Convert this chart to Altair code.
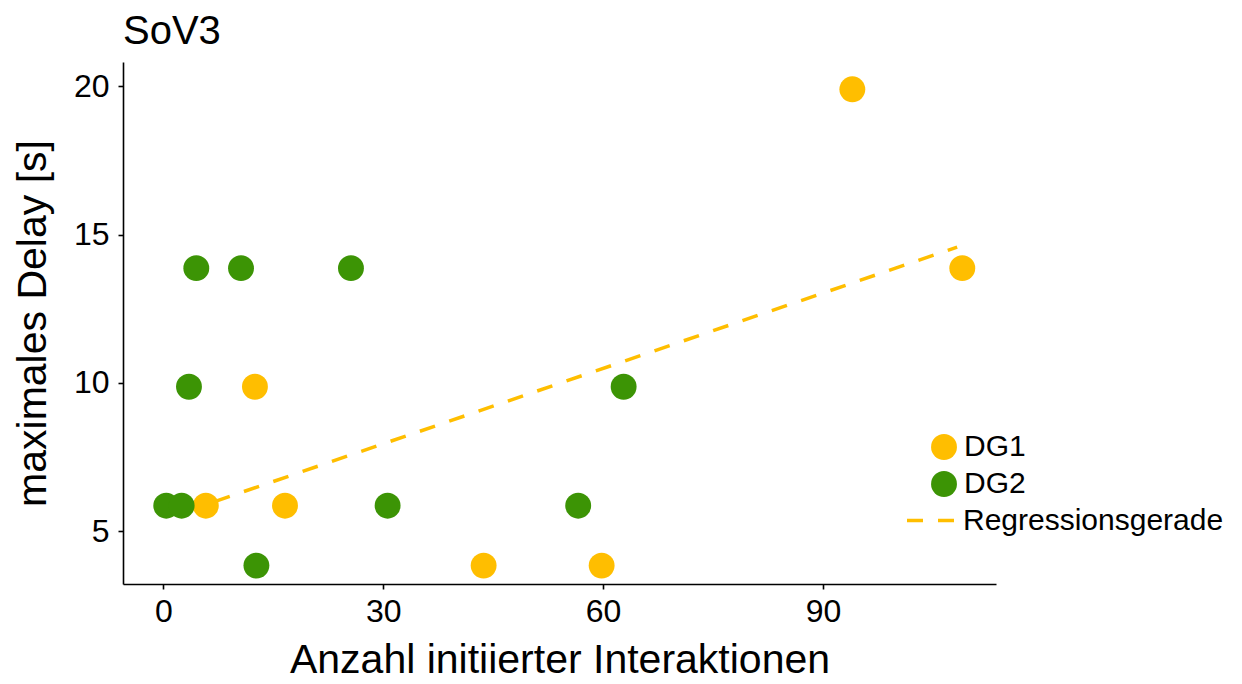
import altair as alt
import pandas as pd

# --- data ---
dg1_x = [94, 109, 12.5, 5.8, 16.6, 43.7, 59.8]
dg1_y = [19.9, 13.87, 9.87, 5.86, 5.86, 3.84, 3.84]
dg2_x = [4.5, 10.6, 25.6, 3.5, 62.8, 0.4, 2.5, 30.6, 56.6, 12.7]
dg2_y = [13.87, 13.87, 13.87, 9.87, 9.87, 5.86, 5.86, 5.86, 5.86, 3.84]
reg_x = [3.0, 108.3]
reg_y = [5.66, 14.58]

groups = ["DG1", "DG2"]
colors = ["#FFBE00", "#3C9405"]
x_ticks = [0, 30, 60, 90]
y_ticks = [5, 10, 15, 20]

FONT = "Liberation Sans"
DASH = [16, 15]

pts = pd.DataFrame({
    "x": dg1_x + dg2_x,
    "y": dg1_y + dg2_y,
    "g": ["DG1"] * len(dg1_x) + ["DG2"] * len(dg2_x),
})
reg = pd.DataFrame({"x": reg_x, "y": reg_y, "lab": ["Regressionsgerade"] * 2})

xscale = alt.Scale(domain=[-5.5, 113.6], nice=False, zero=False)
yscale = alt.Scale(domain=[3.22, 20.82], nice=False, zero=False)

common = dict(grid=False, domainColor="black", domainWidth=1.6, tickColor="black",
              tickWidth=1.6, tickSize=5, labelFontSize=32, labelColor="black",
              labelFont=FONT, titleFont=FONT, titleFontWeight="normal", titleColor="black")
xaxis = alt.Axis(values=x_ticks, title="Anzahl initiierter Interaktionen",
                 titleFontSize=41, labelPadding=7, titlePadding=45,
                 titleBaseline="alphabetic", **common)
yaxis = alt.Axis(values=y_ticks, title="maximales Delay [s]",
                 titleFontSize=41, labelPadding=9, titlePadding=19, **common)

points = alt.Chart(pts).mark_circle(size=670, opacity=1).encode(
    x=alt.X("x:Q", scale=xscale, axis=xaxis),
    y=alt.Y("y:Q", scale=yscale, axis=yaxis),
    color=alt.Color("g:N", scale=alt.Scale(domain=groups, range=colors),
                    legend=alt.Legend(title=None, orient="none", legendX=806, legendY=370,
                                      symbolType="circle", symbolSize=670, symbolOpacity=1,
                                      labelFontSize=30, labelFont=FONT, labelColor="black",
                                      rowPadding=7, labelOffset=5, labelLimit=400)),
)

line = alt.Chart(reg).mark_line(strokeWidth=3.5, color="#FFBE00", strokeDash=DASH).encode(
    x="x:Q",
    y="y:Q",
    strokeDash=alt.StrokeDash("lab:N", scale=alt.Scale(domain=["Regressionsgerade"], range=[DASH]),
                              legend=alt.Legend(title=None, orient="none", legendX=782, legendY=432,
                                                symbolType="stroke", symbolStrokeColor="#FFBE00",
                                                symbolStrokeWidth=3.5, symbolSize=2401,
                                                labelFontSize=30, labelFont=FONT, labelColor="black",
                                                labelOffset=5, labelLimit=400)),
)

chart = alt.layer(line, points).resolve_legend(color="independent", strokeDash="independent").properties(
    width=873, height=522,
    background="white",
    autosize=alt.AutoSizeParams(type="none"),
    padding={"left": 115, "top": 54, "right": 238, "bottom": 92},
    title=alt.TitleParams("SoV3", anchor="start", frame="group", fontSize=40, font=FONT,
                          fontWeight="normal", color="black", offset=10),
).configure_view(strokeOpacity=0, strokeWidth=0)

chart.save("out.html", embed_options={"renderer": "svg", "actions": False})
